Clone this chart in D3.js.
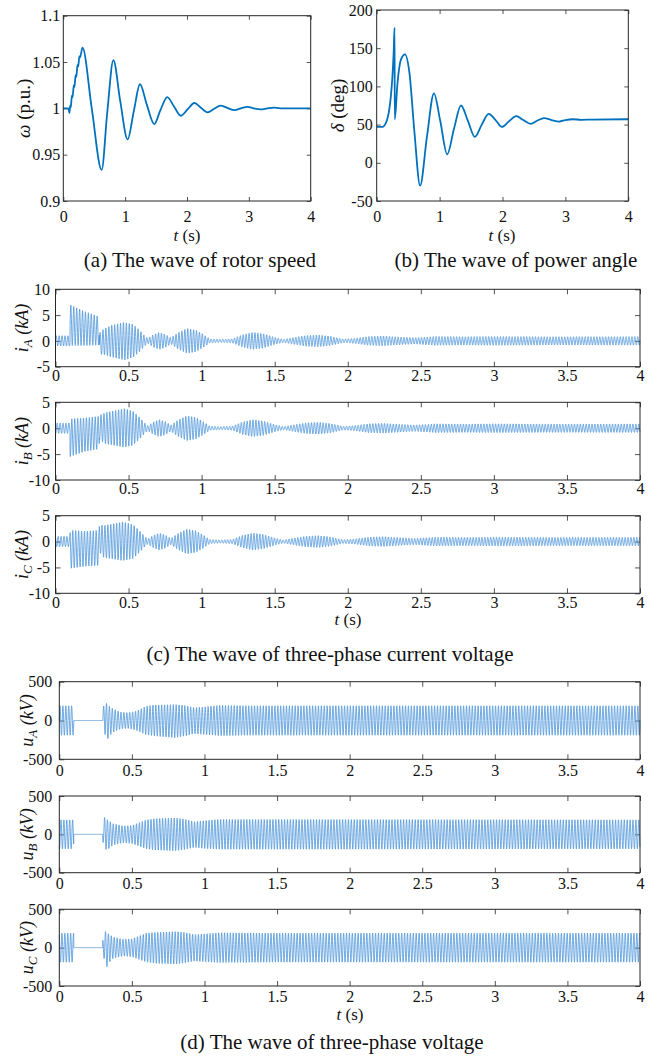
<!DOCTYPE html>
<html>
<head>
<meta charset="utf-8">
<script src="https://cdn.jsdelivr.net/npm/d3@7"></script>
<style>
  body { margin: 0; background: #fff; }
  svg { font-family: "Liberation Serif", "Times New Roman", serif; }
</style>
</head>
<body>
<script>
// rotor speed (p.u.) and power angle (deg)
const omegaData = [
  [0, 1], [0.08, 1], [0.1, 0.995], [0.11, 1.003], [0.12, 1.001], [0.14, 1.014], [0.15, 1.012],
  [0.17, 1.025], [0.18, 1.023], [0.2, 1.036], [0.21, 1.034], [0.23, 1.047], [0.24, 1.045],
  [0.26, 1.056], [0.27, 1.055], [0.31, 1.0655], [0.46, 1.0], [0.62, 0.9335], [0.71, 0.995],
  [0.81, 1.052], [0.92, 1.008], [1.04, 0.9665], [1.14, 0.997], [1.24, 1.026], [1.35, 1.004],
  [1.47, 0.983], [1.57, 0.998], [1.68, 1.0122], [1.79, 1.002], [1.9, 0.992], [2.01, 0.999],
  [2.12, 1.0058], [2.22, 1.001], [2.33, 0.9957], [2.44, 0.9995], [2.54, 1.003], [2.65, 1.0005],
  [2.77, 0.998], [2.87, 1.0], [2.98, 1.0015], [3.08, 1.0], [3.19, 0.999], [3.3, 1.0],
  [3.41, 1.0007], [3.55, 1.0], [4, 1.0]
];
const deltaData = [
  [0, 47], [0.09, 47], [0.15, 53], [0.2, 70], [0.225, 87], [0.25, 113], [0.27, 145], [0.284, 177],
  [0.287, 57], [0.33, 104], [0.385, 135], [0.45, 142], [0.52, 118], [0.6, 40], [0.69, -30],
  [0.8, 35], [0.91, 91], [1.01, 55], [1.12, 11], [1.23, 45], [1.34, 75], [1.45, 55], [1.56, 34],
  [1.67, 50], [1.78, 64], [1.89, 56], [1.99, 47], [2.1, 54], [2.22, 61], [2.33, 56], [2.45, 51],
  [2.55, 55], [2.66, 58.5], [2.78, 56], [2.9, 54], [3.0, 56], [3.12, 57], [3.25, 56.3], [3.4, 56.5], [4, 57]
];

// three-phase currents (kA): [t, upper envelope, lower envelope]
const currentTail = [
  [0.575, 2.1, -2.1], [0.61, 1.0, -1.0], [0.632, 0.5, -0.5], [0.67, 1.2, -1.2], [0.71, 1.65, -1.65],
  [0.75, 1.3, -1.3], [0.79, 0.6, -0.6], [0.84, 1.6, -1.6], [0.9, 2.4, -2.4], [0.96, 2.1, -2.1],
  [1.01, 1.3, -1.3], [1.055, 0.4, -0.4], [1.13, 0.3, -0.3], [1.21, 0.4, -0.4], [1.28, 1.2, -1.2],
  [1.35, 1.65, -1.65], [1.42, 1.4, -1.4], [1.5, 0.7, -0.7], [1.56, 0.3, -0.3], [1.64, 0.7, -0.7],
  [1.72, 1.05, -1.05], [1.8, 1.15, -1.15], [1.88, 0.9, -0.9], [1.97, 0.35, -0.35], [2.05, 0.5, -0.5],
  [2.14, 0.85, -0.85], [2.24, 0.95, -0.95], [2.36, 0.75, -0.75], [2.46, 0.6, -0.6], [2.6, 0.85, -0.85],
  [2.8, 0.8, -0.8], [3.0, 0.85, -0.85], [3.4, 0.8, -0.8], [4, 0.82, -0.82]
];
const iAEnv = [
  [0, 1, -1], [0.099, 1, -1], [0.1, 7, -0.9], [0.2, 5.7, -0.9], [0.299, 4.7, -0.8], [0.3, 1.5, -3.0],
  [0.32, 2.1, -2.5], [0.38, 3.0, -3.1], [0.47, 3.6, -3.7], [0.53, 3.2, -3.2]
].concat(currentTail);
const iBEnv = [
  [0, 1, -1], [0.099, 1, -1], [0.1, 1.8, -5.5], [0.2, 2.0, -4.5], [0.299, 2.3, -4.0], [0.3, 2.5, -2.2],
  [0.34, 3.0, -3.0], [0.47, 3.8, -3.7], [0.53, 3.3, -3.3]
].concat(currentTail);
const iCEnv = [
  [0, 1, -1], [0.099, 1, -1], [0.1, 2.2, -5.2], [0.2, 2.0, -4.8], [0.299, 2.2, -4.6], [0.3, 3.3, -2.0],
  [0.33, 3.1, -3.1], [0.46, 3.8, -3.7], [0.53, 3.3, -3.3]
].concat(currentTail);

// three-phase voltages (kV): [t, upper envelope, lower envelope]
const uAEnv = [
  [0, 190, -190], [0.099, 190, -190], [0.1, 0, 0], [0.299, 0, 0], [0.3, 120, -120], [0.315, 305, -180],
  [0.325, 220, -280], [0.34, 190, -210], [0.37, 150, -150], [0.42, 110, -110], [0.47, 100, -100],
  [0.53, 120, -125], [0.6, 185, -185], [0.66, 200, -200], [0.8, 205, -222], [0.86, 195, -200],
  [0.93, 165, -170], [1.0, 175, -180], [1.1, 195, -195], [1.3, 190, -190], [4, 190, -190]
];
const uBEnv = [
  [0, 190, -190], [0.099, 190, -190], [0.1, 0, 0], [0.299, 0, 0], [0.3, 100, -100], [0.315, 250, -150],
  [0.325, 200, -220], [0.34, 180, -190], [0.37, 140, -140], [0.44, 110, -110], [0.5, 115, -120],
  [0.6, 190, -190], [0.66, 205, -205], [0.8, 215, -215], [0.86, 200, -200], [0.93, 165, -170],
  [1.0, 180, -185], [1.1, 195, -195], [1.5, 195, -195], [4, 190, -190]
];
const uCEnv = [
  [0, 190, -190], [0.099, 190, -190], [0.1, 0, 0], [0.299, 0, 0], [0.3, 110, -110], [0.315, 220, -170],
  [0.325, 190, -260], [0.34, 180, -200], [0.37, 140, -140], [0.44, 110, -110], [0.5, 115, -120],
  [0.6, 190, -190], [0.66, 200, -205], [0.8, 210, -215], [0.86, 200, -200], [0.93, 170, -175],
  [1.0, 180, -185], [1.1, 195, -195], [1.5, 190, -190], [4, 190, -190]
];

const freq = 50;
const timeTicksAB = [0, 1, 2, 3, 4];
const timeTicks = [0, 0.5, 1, 1.5, 2, 2.5, 3, 3.5, 4];
const omegaTicks = [0.9, 0.95, 1, 1.05, 1.1];
const deltaTicks = [-50, 0, 50, 100, 150, 200];
const iTicksA = [-5, 0, 5, 10];
const iTicksBC = [-10, -5, 0, 5];
const uTicks = [-500, 0, 500];

const FONT = '"Liberation Serif", "Times New Roman", serif';
const AXIS = "#262626";

const svg = d3.select("body").append("svg")
  .attr("width", 660)
  .attr("height", 1058);

function richText(sel, parts) {
  parts.forEach(p => {
    sel.append("tspan")
      .text(p.t)
      .attr("font-style", p.i ? "italic" : "normal")
      .attr("font-size", p.sub ? 13 : null)
      .attr("dy", p.dy || null);
  });
}

function makePanel(p) {
  const x = d3.scaleLinear().domain([0, 4]).range([p.left, p.right]);
  const y = d3.scaleLinear().domain(p.yDomain).range([p.bottom, p.top]);
  const g = svg.append("g");
  const fmt = d => String(d);

  const axes = [
    g.append("g").attr("transform", `translate(0,${p.bottom})`)
      .call(d3.axisBottom(x).tickValues(p.xTicks).tickSize(-p.tick).tickPadding(p.xPad).tickFormat(fmt)),
    g.append("g").attr("transform", `translate(0,${p.top})`)
      .call(d3.axisTop(x).tickValues(p.xTicks).tickSize(-p.tick).tickFormat("")),
    g.append("g").attr("transform", `translate(${p.left},0)`)
      .call(d3.axisLeft(y).tickValues(p.yTicks).tickSize(-p.tick).tickPadding(p.yPad).tickFormat(fmt)),
    g.append("g").attr("transform", `translate(${p.right},0)`)
      .call(d3.axisRight(y).tickValues(p.yTicks).tickSize(-p.tick).tickFormat(""))
  ];
  axes.forEach(a => {
    a.attr("font-family", FONT).attr("font-size", 16);
    a.select(".domain").remove();
    a.selectAll(".tick line").attr("stroke", AXIS).attr("stroke-width", 0.8);
    a.selectAll(".tick text").attr("fill", "#111");
  });

  g.append("rect")
    .attr("x", p.left).attr("y", p.top)
    .attr("width", p.right - p.left).attr("height", p.bottom - p.top)
    .attr("fill", "none").attr("stroke", AXIS).attr("stroke-width", 1);

  const lab = g.append("text")
    .attr("transform", `translate(${p.labelX},${(p.top + p.bottom) / 2}) rotate(-90)`)
    .attr("text-anchor", "middle")
    .attr("font-size", p.labelSize || 18)
    .attr("fill", "#111");
  richText(lab, p.label);

  return { x, y, g };
}

function drawSmooth(panel, data) {
  const line = d3.line()
    .x(d => panel.x(d[0]))
    .y(d => panel.y(d[1]))
    .curve(d3.curveMonotoneX);
  panel.g.insert("path", "rect")
    .datum(data)
    .attr("fill", "none")
    .attr("stroke", "#0072BD")
    .attr("stroke-width", 1.8)
    .attr("d", line);
}

function drawWave(panel, env, phase) {
  const ts = env.map(d => d[0]);
  const hi = d3.scaleLinear().domain(ts).range(env.map(d => d[1]));
  const lo = d3.scaleLinear().domain(ts).range(env.map(d => d[2]));
  const pts = d3.range(0, 4.0005, 0.001).map(t => {
    const a = hi(t), b = lo(t);
    return [t, (a + b) / 2 + (a - b) / 2 * Math.sin(2 * Math.PI * freq * t + phase)];
  });
  const line = d3.line().x(d => panel.x(d[0])).y(d => panel.y(d[1]));
  panel.g.insert("path", "rect")
    .datum(pts)
    .attr("fill", "none")
    .attr("stroke", "#4d94d9")
    .attr("stroke-width", 0.8)
    .attr("d", line);
}

function caption(x, y, str, size) {
  svg.append("text")
    .attr("x", x).attr("y", y)
    .attr("text-anchor", "middle")
    .attr("font-family", FONT)
    .attr("font-size", size)
    .attr("fill", "#111")
    .text(str);
}

function timeLabel(x, y) {
  const t = svg.append("text")
    .attr("x", x).attr("y", y)
    .attr("text-anchor", "middle")
    .attr("font-family", FONT)
    .attr("font-size", 17)
    .attr("fill", "#111");
  richText(t, [{ t: "t", i: 1 }, { t: " (s)" }]);
}

// (a) rotor speed
const pA = makePanel({
  left: 63.3, right: 310.7, top: 15.7, bottom: 201, yDomain: [0.9, 1.1],
  xTicks: timeTicksAB, yTicks: omegaTicks, tick: 4, xPad: 10, yPad: 3,
  labelX: 30, labelSize: 19, label: [{ t: "ω", i: 1 }, { t: " (p.u.)" }]
});
drawSmooth(pA, omegaData);
timeLabel(187, 241);
caption(200, 267, "(a) The wave of rotor speed", 21);

// (b) power angle
const pB = makePanel({
  left: 376.7, right: 628.3, top: 10, bottom: 201, yDomain: [-50, 200],
  xTicks: timeTicksAB, yTicks: deltaTicks, tick: 4, xPad: 10, yPad: 4,
  labelX: 344, labelSize: 19, label: [{ t: "δ", i: 1 }, { t: " (deg)" }]
});
drawSmooth(pB, deltaData);
timeLabel(502, 241);
caption(516, 267, "(b) The wave of power angle", 21);

// (c) currents
const curRows = [
  { top: 289.3, bottom: 366.7, dom: [-5, 10], ticks: iTicksA, env: iAEnv, ph: 0, sub: "A" },
  { top: 402.3, bottom: 480, dom: [-10, 5], ticks: iTicksBC, env: iBEnv, ph: -2 * Math.PI / 3, sub: "B" },
  { top: 515.7, bottom: 593.3, dom: [-10, 5], ticks: iTicksBC, env: iCEnv, ph: 2 * Math.PI / 3, sub: "C" }
];
curRows.forEach(r => {
  const p = makePanel({
    left: 55.5, right: 640, top: r.top, bottom: r.bottom, yDomain: r.dom,
    xTicks: timeTicks, yTicks: r.ticks, tick: 5, xPad: 3, yPad: 5.5,
    labelX: 28, label: [{ t: "i", i: 1 }, { t: r.sub, i: 1, sub: 1, dy: 4 }, { t: " (", dy: -4, i: 1 }, { t: "kA", i: 1 }, { t: ")", i: 1 }]
  });
  drawWave(p, r.env, r.ph);
});
timeLabel(348, 625);
caption(330, 661, "(c) The wave of three-phase current voltage", 21);

// (d) voltages
const volRows = [
  { top: 681.7, bottom: 759.3, env: uAEnv, ph: 0, sub: "A" },
  { top: 796, bottom: 872.7, env: uBEnv, ph: -2 * Math.PI / 3, sub: "B" },
  { top: 909.3, bottom: 986, env: uCEnv, ph: 2 * Math.PI / 3, sub: "C" }
];
volRows.forEach(r => {
  const p = makePanel({
    left: 59.3, right: 640, top: r.top, bottom: r.bottom, yDomain: [-500, 500],
    xTicks: timeTicks, yTicks: uTicks, tick: 5, xPad: 5, yPad: 7,
    labelX: 33, label: [{ t: "u", i: 1 }, { t: r.sub, i: 1, sub: 1, dy: 4 }, { t: " (", dy: -4, i: 1 }, { t: "kV", i: 1 }, { t: ")", i: 1 }]
  });
  drawWave(p, r.env, r.ph);
});
timeLabel(350, 1020);
caption(332, 1049, "(d) The wave of three-phase voltage", 21);
</script>
</body>
</html>
